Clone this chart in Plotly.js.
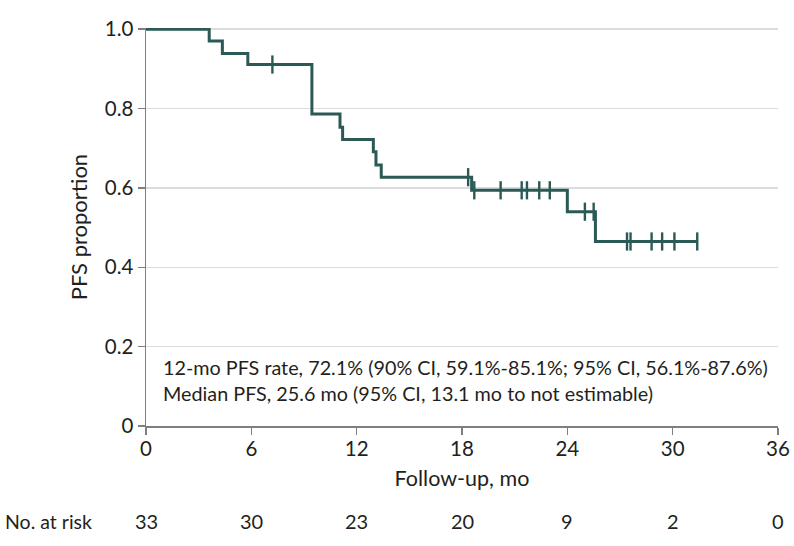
<!DOCTYPE html>
<html>
<head>
<meta charset="utf-8">
<script src="https://cdn.plot.ly/plotly-3.0.1.min.js"></script>
<style>html,body{margin:0;padding:0;background:#fff;}#chart{width:794px;height:546px;}</style>
</head>
<body>
<div id="chart"></div>
<script>
// Kaplan-Meier step points (months, PFS proportion)
const stepTimes = [0, 3.6, 4.35, 5.8, 9.45, 11.05, 11.2, 12.95, 13.1, 13.4, 18.55, 24.0, 25.6, 31.4];
const stepSurv  = [1.0, 0.970, 0.939, 0.911, 0.786, 0.753, 0.722, 0.691, 0.658, 0.627, 0.594, 0.540, 0.465, 0.465];
// Censored observations
const censorTimes = [7.2, 18.35, 18.7, 20.2, 21.4, 21.7, 22.4, 23.0, 25.0, 25.5, 27.4, 27.6, 28.8, 29.4, 30.1, 31.4];
const censorSurv  = [0.911, 0.627, 0.594, 0.594, 0.594, 0.594, 0.594, 0.594, 0.540, 0.540, 0.465, 0.465, 0.465, 0.465, 0.465, 0.465];
// Axis ticks
const xTicks = [0, 6, 12, 18, 24, 30, 36];
const yTicks = [0, 0.2, 0.4, 0.6, 0.8, 1.0];
const yTickLabels = ['0', '0.2', '0.4', '0.6', '0.8', '1.0'];
// Number at risk
const atRiskTimes = [0, 6, 12, 18, 24, 30, 36];
const atRiskCounts = [33, 30, 23, 20, 9, 2, 0];
// Summary text
const statLines = [
  '12-mo PFS rate, 72.1% (90% CI, 59.1%-85.1%; 95% CI, 56.1%-87.6%)',
  'Median PFS, 25.6 mo (95% CI, 13.1 mo to not estimable)'
];

const FONT = 'Lato, sans-serif';
const lineColor = '#2b5956';
const textColor = '#231f20';

const traces = [
  {x: stepTimes, y: stepSurv, type: 'scatter', mode: 'lines', line: {shape: 'hv', color: lineColor, width: 3}, hoverinfo: 'skip'},
  {x: censorTimes, y: censorSurv, type: 'scatter', mode: 'markers', cliponaxis: false,
   marker: {symbol: 'line-ns', size: 13, line: {color: lineColor, width: 2.4}}, hoverinfo: 'skip'}
];

const annotations = [];
statLines.forEach((t, i) => annotations.push({
  text: t, xref: 'paper', yref: 'paper', x: 0.023, y: 0.147 - i * 0.064, xanchor: 'left', yanchor: 'middle',
  showarrow: false, font: {family: FONT, size: 19.8, color: textColor}
}));
annotations.push({text: 'No. at risk', xref: 'paper', yref: 'paper', x: -0.226, y: -0.239, xanchor: 'left', yanchor: 'middle',
  showarrow: false, font: {family: FONT, size: 19.5, color: textColor}});
atRiskTimes.forEach((t, i) => annotations.push({
  text: String(atRiskCounts[i]), xref: 'x', yref: 'paper', x: t, y: -0.239, xanchor: 'center', yanchor: 'middle',
  showarrow: false, font: {family: FONT, size: 20, color: textColor}
}));

const layout = {
  width: 794, height: 546,
  margin: {l: 146, r: 16, t: 28, b: 120},
  paper_bgcolor: '#fff', plot_bgcolor: '#fff',
  showlegend: false,
  font: {family: FONT, size: 20, color: textColor},
  xaxis: {
    range: [0, 36], tickvals: xTicks, ticktext: xTicks.map(String),
    showgrid: false, zeroline: false, showline: true, linecolor: '#7f7f7f', linewidth: 1.5,
    ticks: 'outside', ticklen: 7, tickcolor: '#7f7f7f', tickwidth: 1.5, ticklabelstandoff: -3,
    tickfont: {family: FONT, size: 20.5, color: textColor},
    title: {text: 'Follow-up, mo', font: {family: FONT, size: 21.5, color: textColor}, standoff: 12}
  },
  yaxis: {
    range: [0, 1.003], tickvals: yTicks, ticktext: yTickLabels,
    showgrid: true, gridcolor: '#dcdcdc', gridwidth: 1.5, zeroline: false,
    showline: true, linecolor: '#7f7f7f', linewidth: 1.5,
    ticks: 'outside', ticklen: 7, tickcolor: '#7f7f7f', tickwidth: 1.5,
    tickfont: {family: FONT, size: 20.5, color: textColor},
    title: {text: 'PFS proportion', font: {family: FONT, size: 22, color: textColor}, standoff: 11}
  },
  annotations: annotations
};

Plotly.newPlot('chart', traces, layout, {displayModeBar: false, staticPlot: true});
</script>
</body>
</html>
